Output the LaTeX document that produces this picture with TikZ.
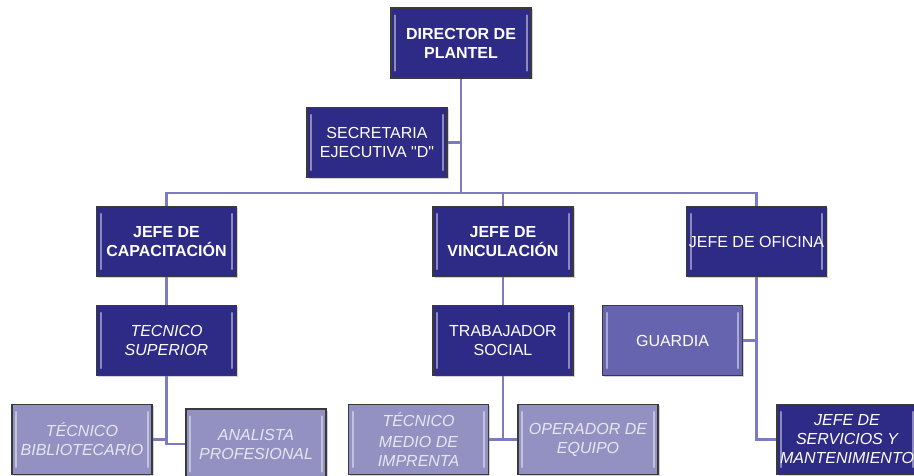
\documentclass[tikz,border=0pt]{standalone}
\usepackage{fontspec}
\setmainfont{Liberation Sans}
\newfontfamily\qfont{Liberation Sans}
\usetikzlibrary{shadows,backgrounds}
\definecolor{darkbox}{HTML}{2E2B87}
\definecolor{midbox}{HTML}{6664AE}
\definecolor{lightbox}{HTML}{9391C2}
\definecolor{conn}{HTML}{7B7BC0}
\definecolor{edge}{HTML}{3A3A3A}
\definecolor{paletext}{HTML}{E6E6F2}
\tikzset{
  orgbox/.style={rectangle, draw=edge, line width=1.3pt, minimum width=140pt, minimum height=70pt,
    inner sep=0pt, align=center, text=white, font=\fontsize{16}{19}\selectfont,
    drop shadow={shadow xshift=1.5pt, shadow yshift=-1.5pt, opacity=0.35}},
  dark/.style={orgbox, fill=darkbox},
  mid/.style={orgbox, fill=midbox},
  pale/.style={orgbox, fill=lightbox, text=paletext},
  bold/.style={font=\fontsize{16}{19}\selectfont\bfseries},
  ital/.style={font=\fontsize{16}{19}\selectfont\itshape},
  link/.style={draw=conn, line width=2.6pt},
  bevel/.style={draw=white, opacity=0.45, line width=2pt, line cap=round}
}
\begin{document}
\begin{tikzpicture}[x=1pt,y=-1pt]
\useasboundingbox (0,0) rectangle (914,476);
\clip (0,0) rectangle (914,476);
\coordinate (bus) at (0,193);
\node[dark,bold] (dir) at (461,43) {DIRECTOR DE\\PLANTEL};
\node[dark] (sec) at (377,142.5) {SECRETARIA\\{\qfont EJECUTIVA "D"}};
\node[dark,bold] (jc) at (166.5,241.5) {JEFE DE\\CAPACITACIÓN};
\node[dark,ital] (ts) at (166.5,340.5) {TECNICO\\SUPERIOR};
\node[pale,ital] (tb) at (82,439.5) {TÉCNICO\\BIBLIOTECARIO};
\node[pale,ital] (ap) at (256,444) {ANALISTA\\PROFESIONAL};
\node[dark,bold] (jv) at (503,241.5) {JEFE DE\\VINCULACIÓN};
\node[dark] (trs) at (503,340.5) {TRABAJADOR\\SOCIAL};
\node[pale,ital] (tmi) at (418.5,439.5) {TÉCNICO\\[2pt]MEDIO DE\\IMPRENTA};
\node[pale,ital] (oe) at (588,439.5) {OPERADOR DE\\EQUIPO};
\node[dark] (jo) at (756.5,241.5) {JEFE DE OFICINA};
\node[mid] (gu) at (672.5,340.5) {GUARDIA};
\node[dark,ital] (js) at (847,439.5) {JEFE DE\\SERVICIOS Y\\MANTENIMIENTO};
\foreach \n in {dir,sec,jc,ts,tb,ap,jv,trs,tmi,oe,jo,gu,js}{
  \draw[bevel] ([shift={(5,8)}]\n.north west) -- ([shift={(5,-8)}]\n.south west);
  \draw[bevel] ([shift={(-5,8)}]\n.north east) -- ([shift={(-5,-8)}]\n.south east);
}
\begin{pgfonlayer}{background}
\fill[white] (0,0) rectangle (914,476);
\draw[link] (dir.south) -- (dir.south |- bus);
\draw[link] (sec.east) -- (sec.east -| dir.south);
\draw[link] (jc.north) -- (jc.north |- bus) -- (jo.north |- bus) -- (jo.north);
\draw[link] (jv.north) -- (jv.north |- bus);
\draw[link] (jc.south) -- (ts.north);
\draw[link] (ts.south) |- (tb.east);
\draw[link] (ts.south) |- (ap.west);
\draw[link] (jv.south) -- (trs.north);
\draw[link] (trs.south) |- (tmi.east);
\draw[link] (trs.south) |- (oe.west);
\draw[link] (jo.south) |- (gu.east);
\draw[link] (jo.south) |- (js.west);
\end{pgfonlayer}
\end{tikzpicture}
\end{document}
